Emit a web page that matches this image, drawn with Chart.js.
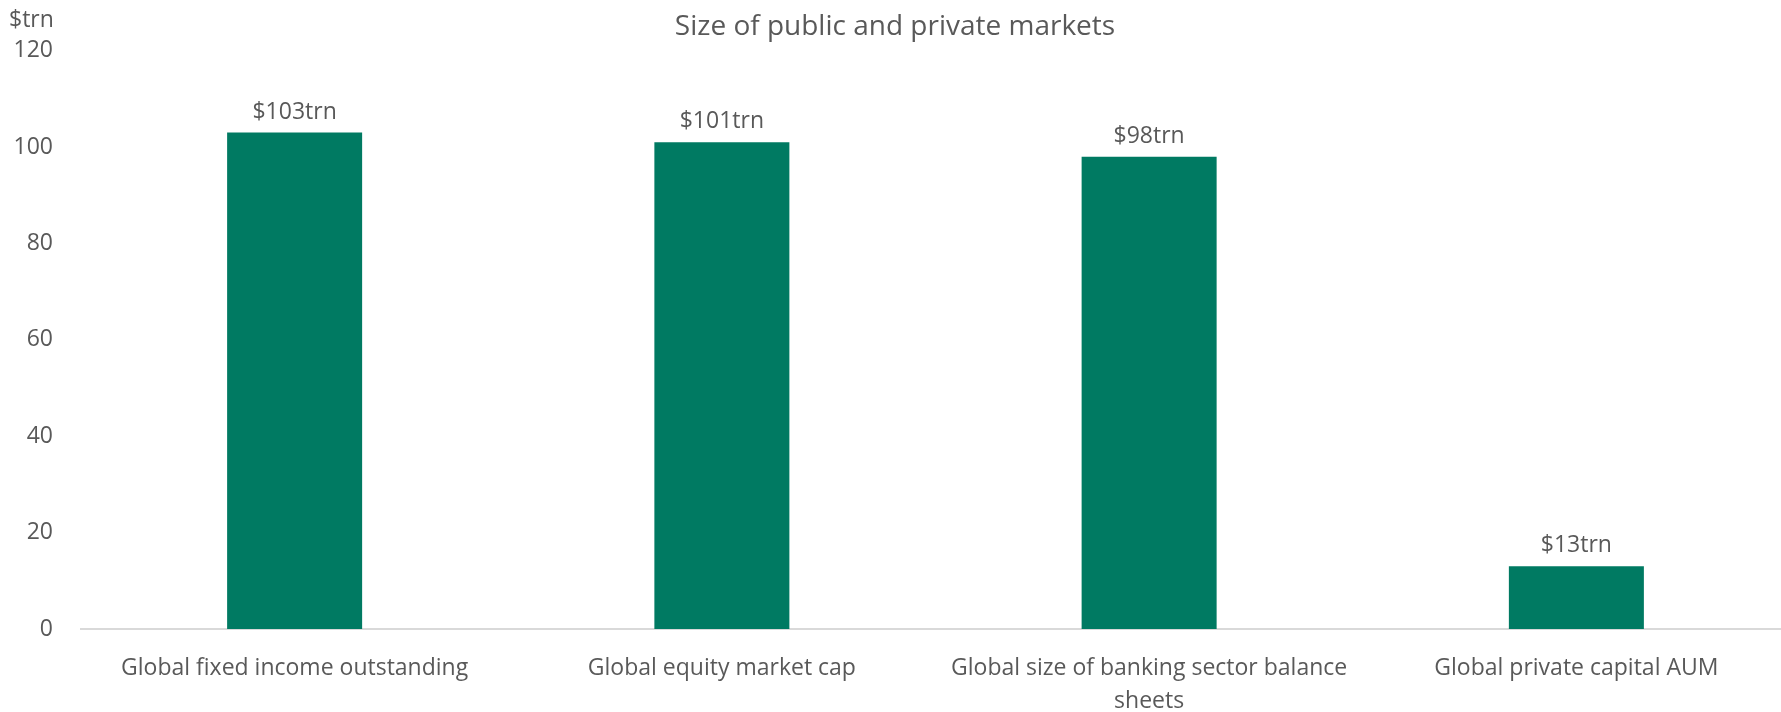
<!DOCTYPE html>
<html>
<head>
<meta charset="utf-8">
<script src="https://cdn.jsdelivr.net/npm/chart.js@4/dist/chart.umd.min.js"></script>
<style>
  html, body { margin: 0; padding: 0; background: #fff; overflow: hidden; }
  /* the reference plot runs a few px past the right edge of the picture */
  #wrap { width: 1790px; height: 712px; position: relative; }
</style>
</head>
<body>
<div id="wrap"><canvas id="marketsChart"></canvas></div>
<script>
// 1. DATA
const categories = [
    'Global fixed income outstanding',
    'Global equity market cap',
    ['Global size of banking sector balance', 'sheets'],
    'Global private capital AUM'
];
const sizeTrn = [103, 101, 98, 13];
const barLabels = ['$103trn', '$101trn', '$98trn', '$13trn'];
const yTicks = [0, 20, 40, 60, 80, 100, 120];

const GREEN = '#007A62';
const GREY_TEXT = '#595959';
const FONT = "'Open Sans', 'Noto Sans', sans-serif";

// 2. PLUGIN: value labels on top of bars + "$trn" unit
const labelsPlugin = {
    id: 'barLabels',
    afterDatasetsDraw(chart) {
        const ctx = chart.ctx;
        const meta = chart.getDatasetMeta(0);
        ctx.save();
        ctx.font = '23px ' + FONT;
        ctx.fillStyle = GREY_TEXT;
        ctx.textAlign = 'center';
        ctx.textBaseline = 'bottom';
        meta.data.forEach((bar, i) => {
            ctx.fillText(barLabels[i], bar.x, bar.y - 9);
        });
        // unit above the y axis
        const y = chart.scales.y;
        ctx.textAlign = 'left';
        ctx.textBaseline = 'middle';
        ctx.fillText('$trn', 9, y.getPixelForValue(120) - 30);
        ctx.restore();
    }
};

// 3. CHART
const ctx = document.getElementById('marketsChart');
new Chart(ctx, {
    type: 'bar',
    data: {
        labels: categories,
        datasets: [{
            label: 'Size', data: sizeTrn,
            backgroundColor: GREEN,
            categoryPercentage: 1.0, barPercentage: 0.316
        }]
    },
    options: {
        responsive: true, maintainAspectRatio: false, animation: false,
        layout: { padding: 0 },
        plugins: {
            legend: { display: false },
            tooltip: { enabled: false },
            title: {
                display: true, text: 'Size of public and private markets',
                color: GREY_TEXT, font: { family: FONT, size: 28, weight: 'normal' },
                padding: { top: 10, bottom: 7 }
            }
        },
        scales: {
            x: {
                afterFit: (scale) => { scale.height = 83; },
                grid: { display: false, drawTicks: false },
                border: { display: true, color: '#D9D9D9', width: 2 },
                ticks: {
                    color: GREY_TEXT, padding: 23, maxRotation: 0, autoSkip: false,
                    font: { family: FONT, size: 23, lineHeight: 1.43 }
                }
            },
            y: {
                min: 0, max: 120,
                afterBuildTicks: (scale) => { scale.ticks = yTicks.map(v => ({ value: v })); },
                afterFit: (scale) => { scale.width = 81; },
                grid: { display: false, drawTicks: false },
                border: { display: false },
                ticks: {
                    color: GREY_TEXT, padding: 28,
                    font: { family: FONT, size: 23 }
                }
            }
        }
    },
    plugins: [labelsPlugin]
});
</script>
</body>
</html>
